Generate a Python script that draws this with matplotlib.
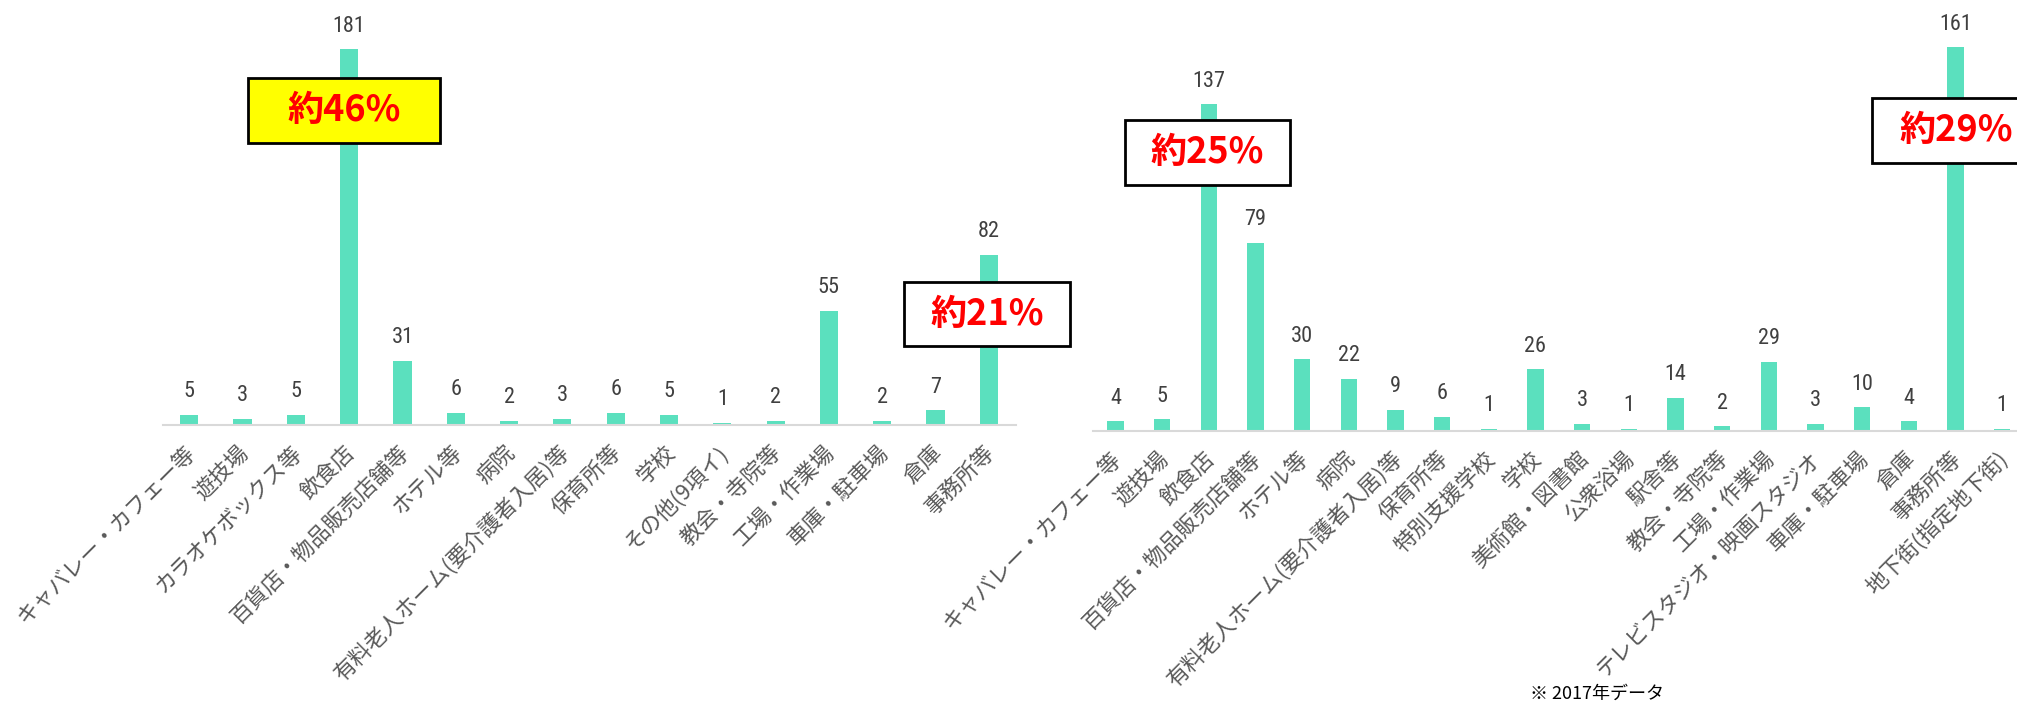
import matplotlib
matplotlib.use('Agg')
import matplotlib.pyplot as plt
import matplotlib.transforms as mtransforms
from matplotlib.patches import Rectangle
from matplotlib import font_manager

plt.rcParams['font.family'] = ['Noto Sans CJK JP', 'DejaVu Sans']

# left chart
left_labels = ['キャバレー・カフェー等', '遊技場', 'カラオケボックス等', '飲食店',
               '百貨店・物品販売店舗等', 'ホテル等', '病院', '有料老人ホーム(要介護者入居)等',
               '保育所等', '学校', 'その他(9項イ)', '教会・寺院等', '工場・作業場',
               '車庫・駐車場', '倉庫', '事務所等']
left_values = [5, 3, 5, 181, 31, 6, 2, 3, 6, 5, 1, 2, 55, 2, 7, 82]

# right chart
right_labels = ['キャバレー・カフェー等', '遊技場', '飲食店', '百貨店・物品販売店舗等',
                'ホテル等', '病院', '有料老人ホーム(要介護者入居)等', '保育所等',
                '特別支援学校', '学校', '美術館・図書館', '公衆浴場', '駅舎等',
                '教会・寺院等', '工場・作業場', 'テレビスタジオ・映画スタジオ',
                '車庫・駐車場', '倉庫', '事務所等', '地下街(指定地下街)']
right_values = [4, 5, 137, 79, 30, 22, 9, 6, 1, 26, 3, 1, 14, 2, 29, 3, 10, 4, 161, 1]

bar_color = '#5BE0BE'
W, H = 2017, 704

# narrow font for the numbers if one is around
installed = {f.name for f in font_manager.fontManager.ttflist}
num_family = 'DejaVu Sans'
for name in ['Liberation Sans Narrow', 'DejaVu Sans Condensed', 'Roboto Condensed']:
    if name in installed:
        num_family = name
        break

fig = plt.figure(figsize=(20.17, 7.04), dpi=100)

ax1 = fig.add_axes([162.6 / W, (H - 425) / H, 853.4 / W, 200 * 2.076 / H])
ax2 = fig.add_axes([1093 / W, (H - 431) / H, 924 / W, 180 * 2.384 / H])


def draw(ax, labels, values, width, xlim, ymax):
    x = list(range(len(values)))
    bars = ax.bar(x, values, width=width, color=bar_color)
    for b, v in zip(bars, values):
        ax.annotate(str(v), (b.get_x() + b.get_width() / 2, v), xytext=(0, 9),
                    textcoords='offset points', ha='center', va='bottom',
                    fontsize=16, color='#404040', family=num_family)
    ax.set_xlim(*xlim)
    ax.set_ylim(0, ymax)
    ax.set_xticks(x)
    ax.set_xticklabels(labels, rotation=45, ha='right', rotation_mode='anchor',
                       fontsize=15.8, color='#595959')
    ax.tick_params(axis='x', length=0, pad=12)
    ax.set_yticks([])
    for s in ['top', 'right', 'left']:
        ax.spines[s].set_visible(False)
    ax.spines['bottom'].set_color('#D9D9D9')
    ax.spines['bottom'].set_linewidth(1.5)
    ax.patch.set_alpha(0)
    shift = mtransforms.ScaledTranslation(-5 / 100, 0, fig.dpi_scale_trans)
    for lab in ax.get_xticklabels():
        lab.set_transform(lab.get_transform() + shift)


draw(ax1, left_labels, left_values, 0.34, (-0.50, 15.51), 200)
draw(ax2, right_labels, right_values, 0.35, (-0.48, 19.32), 180)


# percentage call-out boxes (pixel boxes in figure space)
def callout(x0, y0, x1, y1, text, face):
    r = Rectangle((x0 / W, 1 - y1 / H), (x1 - x0) / W, (y1 - y0) / H,
                  transform=fig.transFigure, facecolor=face, edgecolor='black',
                  linewidth=2, zorder=5)
    fig.add_artist(r)
    fig.text((x0 + x1) / 2 / W, 1 - (y0 + y1) / 2 / H, text, ha='center',
             va='center', fontsize=26, fontweight='bold', color='#FF0000', zorder=6)


callout(248, 78, 440, 143, '約46%', '#FFFF00')
callout(904, 282, 1070, 346, '約21%', 'white')
callout(1125, 120, 1290, 185, '約25%', 'white')
callout(1872, 98, 2040, 163, '約29%', 'white')

fig.text(1530 / W, 1 / H, '※ 2017年データ', ha='left', va='bottom',
         fontsize=13, color='black')

plt.savefig('out.png', dpi=100)
